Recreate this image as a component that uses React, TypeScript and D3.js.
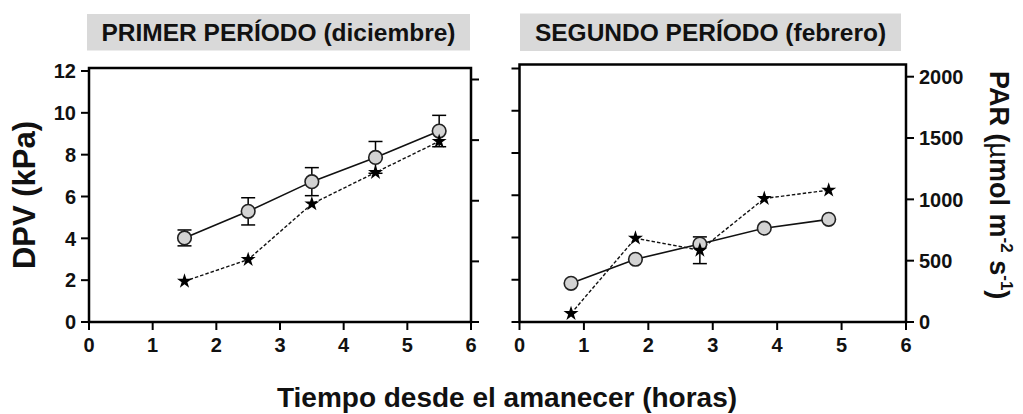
import React from "react";
import * as d3 from "d3";

// Hours after sunrise for each sampling time
const hoursDic = [1.5, 2.5, 3.5, 4.5, 5.5];
const hoursFeb = [0.8, 1.8, 2.8, 3.8, 4.8];

// Vapour pressure deficit (kPa), mean and error
const dpvDic = [4.02, 5.29, 6.71, 7.87, 9.13];
const dpvDicErr = [0.38, 0.65, 0.67, 0.76, 0.75];
const dpvFeb = [1.83, 2.97, 3.69, 4.44, 4.86];
const dpvFebErr = [0, 0, 0, 0, 0];

// Photosynthetically active radiation (µmol m-2 s-1), mean and error
const parDic = [336, 515, 974, 1233, 1490];
const parDicErr = [0, 0, 0, 0, 0];
const parFeb = [69, 683, 585, 1007, 1075];
const parFebErr = [0, 0, 109, 0, 0];

// Axis ticks
const xTicks = [0, 1, 2, 3, 4, 5, 6];
const dpvTicks = [0, 2, 4, 6, 8, 10, 12];
const parTicks = [0, 500, 1000, 1500, 2000];

const titles = ["PRIMER PERÍODO (diciembre)", "SEGUNDO PERÍODO (febrero)"];

const FONT = "Arial, 'Liberation Sans', Helvetica, sans-serif";

type PanelProps = {
  title: string;
  hours: number[];
  dpv: number[];
  dpvErr: number[];
  par: number[];
  parErr: number[];
  left: number;
  right: number;
  top: number;
  bottom: number;
  dpvTop: number;
  parTop: number;
  boxTop: number;
  boxBottom: number;
  boxLeft: number;
  boxRight: number;
  dpvLabels: boolean;
  parLabels: boolean;
};

function Panel(p: PanelProps) {
  const x = d3.scaleLinear().domain([0, 6]).range([p.left, p.right]);
  const yD = d3.scaleLinear().domain([0, 12]).range([p.bottom, p.dpvTop]);
  const yP = d3.scaleLinear().domain([0, 2000]).range([p.bottom, p.parTop]);

  const dpvLine = d3
    .line<number>()
    .x((_, i) => x(p.hours[i]))
    .y((d) => yD(d))(p.dpv) as string;
  const parLine = d3
    .line<number>()
    .x((_, i) => x(p.hours[i]))
    .y((d) => yP(d))(p.par) as string;

  const star = d3.symbol().type(d3.symbolStar).size(70)() as string;
  const tickLen = 8;
  const cap = 7;

  const errBar = (cx: number, y0: number, y1: number, key: string) => (
    <g key={key} stroke="#000" strokeWidth={1.5}>
      <line x1={cx} x2={cx} y1={y0} y2={y1} />
      <line x1={cx - cap} x2={cx + cap} y1={y0} y2={y0} />
      <line x1={cx - cap} x2={cx + cap} y1={y1} y2={y1} />
    </g>
  );

  return (
    <g>
      {/* title banner */}
      <rect
        x={p.boxLeft}
        y={p.boxTop}
        width={p.boxRight - p.boxLeft}
        height={p.boxBottom - p.boxTop}
        fill="#d9d9d9"
      />
      <text
        x={(p.boxLeft + p.boxRight) / 2}
        y={(p.boxTop + p.boxBottom) / 2 + 8.5}
        textAnchor="middle"
        fontFamily={FONT}
        fontWeight="bold"
        fontSize={24.5}
        fill="#111"
      >
        {p.title}
      </text>

      {/* left (DPV) ticks */}
      {dpvTicks.map((t) => (
        <g key={"dl" + t}>
          <line x1={p.left - tickLen} x2={p.left} y1={yD(t)} y2={yD(t)} stroke="#000" strokeWidth={2} />
          {p.dpvLabels && (
            <text
              x={p.left - tickLen - 5}
              y={yD(t) + 7.2}
              textAnchor="end"
              fontFamily={FONT}
              fontWeight="bold"
              fontSize={20}
              fill="#111"
            >
              {t}
            </text>
          )}
        </g>
      ))}

      {/* right (PAR) ticks */}
      {parTicks.map((t) => (
        <g key={"pr" + t}>
          <line x1={p.right} x2={p.right + tickLen} y1={yP(t)} y2={yP(t)} stroke="#000" strokeWidth={2} />
          {p.parLabels && (
            <text
              x={p.right + tickLen + 5}
              y={yP(t) + 7.2}
              textAnchor="start"
              fontFamily={FONT}
              fontWeight="bold"
              fontSize={20}
              fill="#111"
            >
              {t}
            </text>
          )}
        </g>
      ))}

      {/* bottom ticks */}
      {xTicks.map((t) => (
        <g key={"x" + t}>
          <line x1={x(t)} x2={x(t)} y1={p.bottom} y2={p.bottom + tickLen} stroke="#000" strokeWidth={2} />
          <text
            x={x(t)}
            y={p.bottom + 30}
            textAnchor="middle"
            fontFamily={FONT}
            fontWeight="bold"
            fontSize={20}
            fill="#111"
          >
            {t}
          </text>
        </g>
      ))}

      {/* frame */}
      <rect
        x={p.left}
        y={p.top}
        width={p.right - p.left}
        height={p.bottom - p.top}
        fill="none"
        stroke="#000"
        strokeWidth={2.5}
      />

      {/* PAR series */}
      <path d={parLine} fill="none" stroke="#111" strokeWidth={1.4} strokeDasharray="3.5,2" />
      {p.par.map((v, i) =>
        p.parErr[i] > 0
          ? errBar(x(p.hours[i]), yP(v + p.parErr[i]), yP(v - p.parErr[i]), "pe" + i)
          : null
      )}

      {/* DPV series */}
      <path d={dpvLine} fill="none" stroke="#111" strokeWidth={1.6} />
      {p.dpv.map((v, i) =>
        p.dpvErr[i] > 0
          ? errBar(x(p.hours[i]), yD(v + p.dpvErr[i]), yD(v - p.dpvErr[i]), "de" + i)
          : null
      )}
      {p.dpv.map((v, i) => (
        <circle
          key={"c" + i}
          cx={x(p.hours[i])}
          cy={yD(v)}
          r={6.8}
          fill="#d3d3d3"
          stroke="#222"
          strokeWidth={1.6}
        />
      ))}
      {p.par.map((v, i) => (
        <path
          key={"s" + i}
          d={star}
          transform={`translate(${x(p.hours[i])},${yP(v)})`}
          fill="#000"
        />
      ))}
    </g>
  );
}

export default function App() {
  return (
    <div style={{ position: "absolute", left: 0, top: 0 }}>
      <svg width={1023} height={414} style={{ display: "block", background: "#fff" }}>
        <rect x={0} y={0} width={1023} height={414} fill="#fff" />
        <Panel
          title={titles[0]}
          hours={hoursDic}
          dpv={dpvDic}
          dpvErr={dpvDicErr}
          par={parDic}
          parErr={parDicErr}
          left={89}
          right={471}
          top={68}
          bottom={322}
          dpvTop={71}
          parTop={79.5}
          boxLeft={87}
          boxRight={470}
          boxTop={14}
          boxBottom={50.5}
          dpvLabels={true}
          parLabels={false}
        />
        <Panel
          title={titles[1]}
          hours={hoursFeb}
          dpv={dpvFeb}
          dpvErr={dpvFebErr}
          par={parFeb}
          parErr={parFebErr}
          left={519.5}
          right={906}
          top={64.5}
          bottom={322}
          dpvTop={68.5}
          parTop={76.7}
          boxLeft={520}
          boxRight={901}
          boxTop={13.5}
          boxBottom={51}
          dpvLabels={false}
          parLabels={true}
        />

        {/* shared axis titles */}
        <text
          transform="translate(35,195) rotate(-90)"
          textAnchor="middle"
          fontFamily={FONT}
          fontWeight="bold"
          fontSize={31}
          fill="#111"
        >
          DPV (kPa)
        </text>
        <text
          x={507}
          y={407}
          textAnchor="middle"
          fontFamily={FONT}
          fontWeight="bold"
          fontSize={28}
          fill="#111"
        >
          Tiempo desde el amanecer (horas)
        </text>
        <text
          transform="translate(990,71) rotate(90)"
          textAnchor="start"
          fontFamily={FONT}
          fontWeight="bold"
          fontSize={27}
          fill="#111"
        >
          PAR (<tspan fontWeight="normal">µ</tspan>mol m
          <tspan fontSize={17} dy={-11}>-2</tspan>
          <tspan dy={11}> s</tspan>
          <tspan fontSize={17} dy={-11}>-1</tspan>
          <tspan dy={11}>)</tspan>
        </text>
      </svg>
    </div>
  );
}
